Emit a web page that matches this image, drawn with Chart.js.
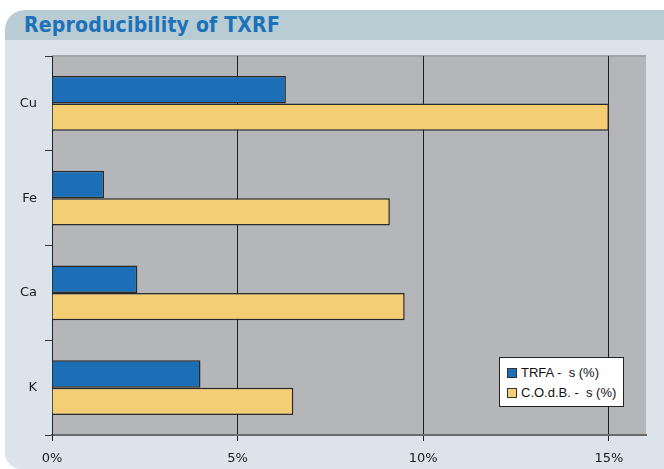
<!DOCTYPE html>
<html>
<head>
<meta charset="utf-8">
<script src="https://cdn.jsdelivr.net/npm/chart.js@4"></script>
<style>
  html, body { margin: 0; padding: 0; background: #fff; }
  #wrap { position: relative; width: 664px; height: 469px; overflow: hidden; }
  #head {
    position: absolute; left: 5px; top: 10px; width: 670px; height: 30px;
    background: #b9cbd3; border-radius: 20px 12px 0 0;
  }
  #head h1 {
    margin: 0; position: absolute; left: 19px; top: 3px;
    font: bold 21px "Liberation Sans Narrow", "DejaVu Sans Condensed", sans-serif;
    color: #1b72b9; letter-spacing: 0.2px;
  }
  #panel {
    position: absolute; left: 5px; top: 40px; width: 670px; height: 429px;
    background: #dce3ea; border-radius: 0 0 0 16px;
  }
  canvas { position: absolute; left: 0; top: 0; }
  #legend {
    position: absolute; left: 499px; top: 357px; width: 125px; height: 50px;
    background: #fff; border: 1px solid #222; box-sizing: border-box;
    font: 13px "Liberation Sans", Arial, sans-serif; color: #111;
    padding: 5px 0 0 7px;
  }
  #legend div { height: 20px; line-height: 20px; white-space: pre; }
  #legend span {
    display: inline-block; width: 8px; height: 8px; margin-right: 4px;
    border: 1px solid #333; vertical-align: -1px;
  }
</style>
</head>
<body>
<div id="wrap">
  <div id="head"><h1>Reproducibility of TXRF</h1></div>
  <div id="panel"></div>
  <canvas id="c" width="664" height="469"></canvas>
  <div id="legend"></div>
</div>
<script>
const elements = ['Cu', 'Fe', 'Ca', 'K'];
const trfa = [6.3, 1.4, 2.3, 4.0];
const codb = [15.0, 9.1, 9.5, 6.5];
const seriesLabels = ['TRFA -  s (%)', 'C.O.d.B. -  s (%)'];
const xTicks = [0, 5, 10, 15];

const BLUE = '#1c6fb7';
const YELLOW = '#f3ce74';
const EDGE = '#2a2a2a';

// grey plot background
const plotBg = {
  id: 'plotBg',
  beforeDraw(chart) {
    const a = chart.chartArea;
    const ctx = chart.ctx;
    ctx.save();
    ctx.fillStyle = '#b5b6b9';
    ctx.fillRect(a.left, a.top, a.right - a.left, a.bottom - a.top);
    ctx.strokeStyle = '#a3a4a7';
    ctx.lineWidth = 2;
    ctx.beginPath();
    ctx.moveTo(a.left, a.top);
    ctx.lineTo(a.right, a.top);
    ctx.stroke();
    ctx.restore();
  }
};

new Chart(document.getElementById('c'), {
  type: 'bar',
  data: {
    labels: elements,
    datasets: [
      { label: seriesLabels[0], data: trfa, backgroundColor: BLUE, borderColor: EDGE, borderWidth: 1.5 },
      { label: seriesLabels[1], data: codb, backgroundColor: YELLOW, borderColor: EDGE, borderWidth: 1.5 },
    ],
  },
  plugins: [plotBg],
  options: {
    responsive: false,
    animation: false,
    indexAxis: 'y',
    datasets: { bar: { categoryPercentage: 0.58, barPercentage: 1.0 } },
    layout: { padding: { top: 56, right: 18, left: 0, bottom: 0 } },
    plugins: { legend: { display: false }, tooltip: { enabled: false } },
    scales: {
      x: {
        min: 0, max: 16,
        afterBuildTicks(scale) { scale.ticks = xTicks.map(v => ({ value: v })); },
        afterFit(scale) { scale.height = 34; },
        grid: { color: '#1e1e1e', lineWidth: 1, tickLength: 6 },
        border: { color: '#6b6b6b', width: 2 },
        ticks: {
          color: '#1a1a1a', padding: 10, maxRotation: 0,
          font: { family: '"DejaVu Sans", Verdana, sans-serif', size: 13 },
          callback: v => v + '%',
        },
      },
      y: {
        afterFit(scale) { scale.width = 52; },
        grid: { offset: true, drawOnChartArea: false, color: '#333', tickLength: 7 },
        border: { color: '#222', width: 1 },
        ticks: {
          color: '#1a1a1a', padding: 8,
          font: { family: '"DejaVu Sans", Verdana, sans-serif', size: 13 },
        },
      },
    },
  },
});

// legend box
const lg = document.getElementById('legend');
[BLUE, YELLOW].forEach((col, i) => {
  const row = document.createElement('div');
  row.innerHTML = '<span style="background:' + col + '"></span>' + seriesLabels[i];
  lg.appendChild(row);
});
</script>
</body>
</html>
